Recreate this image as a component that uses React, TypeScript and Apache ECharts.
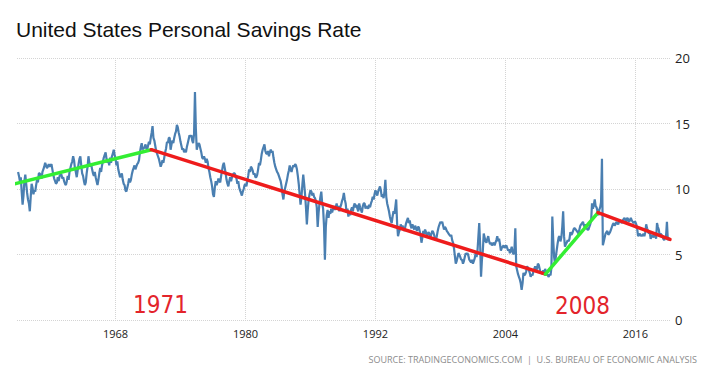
import React, { useEffect, useRef } from "react";
import * as echarts from "echarts";

// Monthly personal savings rate (%), one row per year starting 1959
const startYear = 1959;
const monthlyRate: number[][] = [
  [11.3, 11.0, 10.6, 10.9, 9.8, 8.8, 9.5, 10.6, 11.1, 10.4, 9.7, 9.2],
  [8.9, 8.3, 9.4, 10.4, 10.1, 9.6, 9.9, 9.8, 10.3, 10.7, 10.5, 11.2],
  [11.2, 11.0, 10.8, 11.3, 11.5, 11.7, 12.0, 11.8, 11.6, 11.7, 11.9, 11.7],
  [11.8, 11.9, 11.5, 11.1, 10.8, 10.6, 10.4, 10.5, 10.9, 10.6, 11.0, 11.1],
  [11.1, 10.8, 10.9, 10.6, 10.4, 10.3, 10.6, 11.0, 10.7, 11.3, 11.6, 11.9],
  [12.1, 12.5, 12.2, 11.6, 11.3, 10.9, 11.4, 11.9, 12.3, 12.5, 11.8, 11.2],
  [11.0, 10.6, 10.3, 10.5, 11.2, 11.7, 12.5, 12.0, 11.7, 11.9, 11.5, 11.2],
  [11.0, 11.3, 10.9, 10.6, 10.3, 10.7, 11.2, 11.6, 11.3, 11.8, 12.1, 12.4],
  [12.6, 12.8, 12.3, 12.0, 12.2, 11.8, 12.4, 12.0, 12.5, 12.7, 13.0, 12.6],
  [12.3, 11.8, 12.1, 11.5, 11.2, 10.9, 11.0, 11.2, 10.7, 10.4, 10.3, 9.9],
  [9.8, 10.1, 10.4, 10.8, 10.5, 10.7, 11.1, 11.4, 11.6, 11.8, 11.5, 11.7],
  [11.9, 12.0, 12.2, 12.8, 13.2, 13.5, 13.0, 13.2, 13.1, 13.4, 13.2, 13.0],
  [13.3, 13.6, 13.4, 13.9, 14.3, 14.8, 13.9, 13.7, 13.3, 12.9, 12.7, 12.5],
  [12.3, 12.0, 11.7, 11.9, 12.2, 12.0, 12.4, 12.8, 13.1, 13.6, 13.5, 13.9],
  [13.9, 13.0, 13.4, 13.7, 13.5, 13.9, 14.2, 14.4, 14.9, 14.7, 14.3, 14.0],
  [13.6, 13.3, 13.0, 13.1, 12.8, 13.0, 12.8, 13.2, 13.5, 13.8, 14.1, 14.0],
  [14.1, 13.7, 13.5, 14.2, 17.4, 14.6, 13.0, 13.3, 13.5, 13.4, 13.1, 12.8],
  [12.4, 12.3, 12.5, 12.3, 12.0, 12.3, 12.1, 11.6, 11.3, 10.9, 10.6, 10.2],
  [9.6, 9.4, 10.1, 10.6, 10.3, 10.5, 10.8, 10.6, 10.5, 11.0, 11.4, 11.8],
  [12.0, 11.6, 11.2, 10.7, 10.4, 10.2, 10.6, 10.9, 10.6, 10.9, 11.1, 11.2],
  [11.2, 11.0, 10.8, 10.4, 10.6, 10.1, 9.9, 9.7, 9.5, 9.8, 10.0, 10.3],
  [10.4, 10.2, 10.6, 11.0, 11.5, 11.3, 11.7, 11.6, 11.4, 11.1, 11.2, 10.9],
  [10.9, 11.1, 11.5, 12.0, 11.8, 12.2, 12.7, 13.0, 13.2, 13.4, 12.9, 12.7],
  [12.7, 12.9, 12.5, 12.8, 13.0, 12.8, 12.9, 12.4, 12.0, 11.7, 11.5, 11.3],
  [11.2, 11.0, 10.8, 10.6, 10.2, 9.6, 9.2, 9.8, 10.1, 10.4, 10.7, 11.1],
  [11.4, 11.8, 11.5, 11.3, 11.6, 11.8, 11.7, 11.9, 11.8, 11.5, 11.0, 10.4],
  [9.6, 8.8, 9.4, 10.3, 11.1, 10.4, 9.6, 8.6, 7.3, 8.4, 9.2, 9.6],
  [9.9, 9.8, 9.5, 9.7, 9.4, 9.3, 9.1, 8.6, 7.1, 8.2, 8.9, 9.4],
  [9.8, 8.9, 8.5, 7.2, 4.6, 7.1, 8.0, 8.4, 7.8, 8.3, 8.1, 8.5],
  [8.2, 8.5, 8.7, 8.4, 8.6, 8.9, 8.5, 8.7, 8.3, 8.6, 8.8, 9.1],
  [9.3, 9.7, 9.2, 8.9, 8.2, 8.5, 7.9, 8.3, 8.0, 8.4, 8.6, 8.3],
  [8.7, 8.9, 8.6, 8.8, 8.5, 8.3, 8.9, 8.6, 8.4, 8.2, 8.7, 8.9],
  [8.9, 8.5, 8.7, 8.6, 8.5, 8.8, 8.6, 8.9, 9.1, 9.4, 9.2, 9.6],
  [9.9, 9.7, 9.5, 9.8, 10.0, 10.2, 9.9, 9.4, 9.6, 9.3, 9.8, 10.7],
  [9.4, 8.9, 8.6, 8.3, 7.9, 7.6, 7.4, 7.9, 8.3, 8.1, 8.6, 9.2],
  [7.4, 6.4, 6.7, 6.9, 7.3, 7.0, 7.2, 7.0, 6.8, 7.1, 7.4, 7.6],
  [7.8, 7.4, 7.6, 7.2, 7.0, 7.3, 7.1, 6.9, 7.2, 7.0, 6.8, 7.1],
  [7.1, 6.8, 6.5, 5.9, 6.3, 6.8, 6.6, 6.9, 6.7, 6.4, 6.6, 6.7],
  [6.5, 6.3, 6.6, 6.8, 6.7, 6.5, 6.2, 6.1, 6.4, 6.8, 7.1, 7.3],
  [7.5, 7.4, 7.5, 7.2, 6.9, 7.1, 7.0, 6.8, 6.7, 6.6, 6.5, 6.4],
  [6.5, 6.1, 5.9, 5.5, 4.9, 4.3, 4.5, 4.8, 5.1, 5.0, 4.8, 4.6],
  [4.6, 4.3, 4.5, 4.8, 5.1, 5.0, 5.1, 4.9, 4.6, 4.5, 4.4, 4.6],
  [4.3, 4.5, 4.7, 5.1, 4.8, 5.2, 6.3, 7.4, 5.8, 3.3, 4.6, 5.3],
  [6.6, 6.3, 6.0, 5.9, 6.2, 6.4, 6.0, 5.8, 5.9, 5.7, 5.8, 5.9],
  [5.7, 5.9, 6.1, 6.4, 6.0, 6.2, 5.8, 5.3, 5.5, 5.6, 5.7, 5.5],
  [5.6, 5.7, 5.5, 5.3, 5.4, 5.1, 5.3, 5.6, 5.2, 5.0, 5.3, 7.0],
  [4.1, 3.8, 3.5, 3.3, 3.1, 2.8, 2.3, 2.8, 3.6, 3.4, 3.5, 3.7],
  [4.1, 4.0, 3.8, 3.6, 3.3, 3.5, 3.4, 3.7, 3.9, 4.1, 3.8, 3.9],
  [4.3, 4.2, 3.9, 3.6, 3.7, 3.5, 3.8, 3.6, 3.9, 3.7, 3.5, 3.4],
  [3.3, 3.5, 3.4, 4.0, 7.9, 6.1, 4.8, 4.3, 4.9, 5.4, 5.9, 6.3],
  [6.4, 6.0, 6.3, 7.1, 8.3, 6.4, 5.6, 5.8, 5.9, 6.1, 6.0, 6.2],
  [6.7, 6.5, 6.6, 6.8, 7.0, 7.0, 6.9, 6.8, 6.7, 6.6, 6.9, 7.2],
  [7.3, 7.4, 7.5, 7.2, 7.1, 7.3, 7.0, 6.9, 6.9, 7.1, 7.3, 7.6],
  [8.9, 8.5, 8.8, 9.2, 8.7, 8.6, 8.3, 8.0, 8.4, 8.6, 9.0, 12.3],
  [5.7, 6.0, 6.3, 6.6, 6.7, 6.8, 6.5, 6.6, 6.7, 6.9, 7.1, 7.3],
  [7.4, 7.2, 7.3, 7.5, 7.4, 7.3, 7.5, 7.6, 7.5, 7.4, 7.6, 7.7],
  [7.8, 7.6, 7.5, 7.8, 7.7, 7.5, 7.6, 7.8, 7.6, 7.5, 7.4, 7.5],
  [7.5, 7.3, 7.0, 6.4, 6.5, 6.6, 6.4, 6.5, 6.4, 6.6, 6.4, 6.7],
  [7.3, 7.0, 6.8, 6.6, 6.7, 6.2, 6.4, 6.5, 6.3, 6.4, 6.7, 6.2],
  [7.4, 7.1, 6.9, 6.4, 6.6, 6.5, 6.4, 6.2, 6.1, 6.3, 6.4, 7.5],
  [6.1, 6.3],
];

// Trend lines drawn over the series: [year, rate]
const trendRise1: number[][] = [[1958.45, 10.35], [1971.3, 13.0]];
const trendFall1: number[][] = [[1971.3, 13.0], [2007.7, 3.5]];
const trendRise2: number[][] = [[2007.7, 3.5], [2012.55, 8.2]];
const trendFall2: number[][] = [[2012.55, 8.2], [2019.2, 6.15]];

const xTickYears = [1968, 1980, 1992, 2004, 2016];
const yTicks = { min: 0, max: 20, interval: 5 };
const titleText = "United States Personal Savings Rate";
const sourceText = "SOURCE: TRADINGECONOMICS.COM  |  U.S. BUREAU OF ECONOMIC ANALYSIS";
const annotationLabels = ["1971", "2008"];

const seriesPoints: number[][] = [];
monthlyRate.forEach((row, yi) => {
  row.forEach((v, mi) => {
    seriesPoints.push([startYear + yi + mi / 12, v]);
  });
});

const GREEN = "#33ee33";
const RED = "#ee1c1c";

export default function App() {
  const ref = useRef<HTMLDivElement>(null);
  useEffect(() => {
    if (!ref.current) return;
    const chart = echarts.init(ref.current, null, { renderer: "svg" });
    const trend = (data: number[][], color: string) => ({
      type: "line",
      data,
      showSymbol: false,
      symbol: "none",
      clip: false,
      z: 5,
      lineStyle: { color, width: 3.5, cap: "round" },
      silent: true,
    });
    chart.setOption({
      animation: false,
      backgroundColor: "#ffffff",
      title: {
        text: titleText,
        left: 16,
        top: 19,
        padding: 0,
        textStyle: {
          fontFamily: "'Liberation Sans', Arial, sans-serif",
          fontSize: 21,
          fontWeight: "normal",
          color: "#111111",
        },
      },
      grid: { left: 17, right: 39, top: 58, bottom: 56, containLabel: false },
      xAxis: {
        type: "value",
        min: 1958.9,
        max: 2019.2,
        axisLine: { show: false },
        axisTick: { show: false, customValues: xTickYears },
        axisLabel: {
          customValues: xTickYears,
          fontFamily: "'Open Sans', sans-serif",
          fontSize: 11,
          color: "#222222",
          margin: 8,
          formatter: (v: number) => String(Math.round(v)),
        },
        splitLine: { show: true, lineStyle: { color: "#d4d4d4", type: "dotted", width: 1 } },
      },
      yAxis: {
        type: "value",
        position: "right",
        min: yTicks.min,
        max: yTicks.max,
        interval: yTicks.interval,
        axisLine: { show: false },
        axisTick: { show: false },
        axisLabel: {
          fontFamily: "'Open Sans', sans-serif",
          fontSize: 13,
          color: "#222222",
          margin: 5,
          align: "left",
        },
        splitLine: { show: true, lineStyle: { color: "#d4d4d4", type: "dotted", width: 1 } },
      },
      series: [
        {
          type: "line",
          data: seriesPoints,
          showSymbol: false,
          symbol: "none",
          z: 3,
          lineStyle: { color: "#4a7fb1", width: 2.2 },
          silent: true,
        },
        trend(trendRise1, GREEN),
        trend(trendFall1, RED),
        trend(trendRise2, GREEN),
        trend(trendFall2, RED),
      ],
      graphic: [
        {
          type: "text",
          left: 133,
          top: 293,
          style: {
            text: annotationLabels[0],
            fontFamily: "'Liberation Sans Narrow', 'DejaVu Sans Condensed', sans-serif",
            fontSize: 24,
            fill: "#e3242b",
          },
        },
        {
          type: "text",
          left: 555,
          top: 294,
          style: {
            text: annotationLabels[1],
            fontFamily: "'Liberation Sans Narrow', 'DejaVu Sans Condensed', sans-serif",
            fontSize: 24,
            fill: "#e3242b",
          },
        },
        {
          type: "text",
          right: 12,
          top: 355,
          style: {
            text: sourceText,
            fontFamily: "'Open Sans', sans-serif",
            fontSize: 9,
            fill: "#8c8c8c",
          },
        },
      ],
    });
    return () => chart.dispose();
  }, []);
  return <div ref={ref} style={{ width: 709, height: 376, position: "absolute", left: 0, top: 0 }} />;
}
